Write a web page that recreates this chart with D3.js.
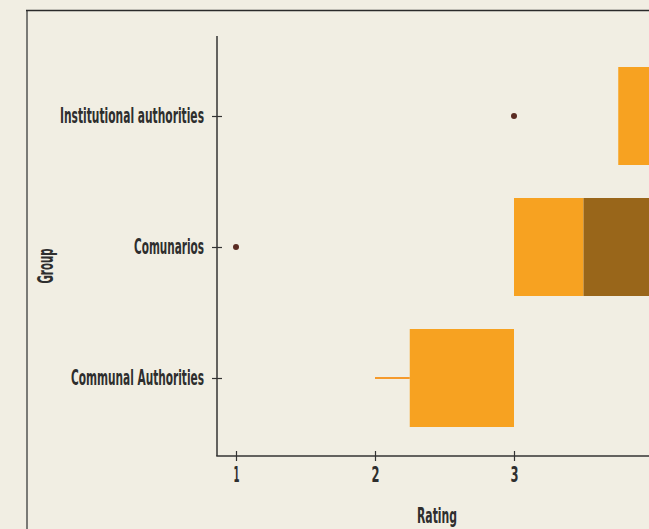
<!DOCTYPE html>
<html>
<head>
<meta charset="utf-8">
<script src="https://cdn.jsdelivr.net/npm/d3@7"></script>
<style>
  html, body { margin: 0; padding: 0; background: #f1eee3; overflow: hidden; }
  svg { display: block; }
  text { font-family: "DejaVu Sans Condensed", "Liberation Sans Narrow", "Liberation Sans", sans-serif; font-weight: bold; fill: #2e2e2e; }
</style>
</head>
<body>
<svg id="chart" width="649" height="529"></svg>
<script>
// Rating distribution per stakeholder group (box plot summary)
const groups = ["Communal Authorities", "Comunarios", "Institutional authorities"];
const whiskerLow = [2, 3, 3.75];
const q1 = [2.25, 3, 3.75];
const median = [3, 3.5, 4];
const q3 = [3, 4, 4.5];
const whiskerHigh = [3, 5, 5];
const outliers = [[], [1], [3]];
const ratingTicks = [1, 2, 3];

const svg = d3.select("#chart");

// outer frame
svg.append("line").attr("x1", 27).attr("y1", 10).attr("x2", 27).attr("y2", 600)
  .attr("stroke", "#7a7a76").attr("stroke-width", 2);
svg.append("line").attr("x1", 26).attr("y1", 10.5).attr("x2", 800).attr("y2", 10.5)
  .attr("stroke", "#2a2a2a").attr("stroke-width", 1.5);

const x = d3.scaleLinear().domain([1, 4]).range([236, 653]);
const y = d3.scalePoint().domain(groups).range([378, 116]);
const boxH = 98;
const axisX = 217, axisY = 456, axisTop = 36;

const plot = svg.append("g");

// whiskers
plot.selectAll("line.whisker").data(groups).join("line")
  .attr("class", "whisker")
  .attr("x1", (g, i) => x(whiskerLow[i]))
  .attr("x2", (g, i) => x(q1[i]))
  .attr("y1", g => y(g)).attr("y2", g => y(g))
  .attr("stroke", "#f59a2c").attr("stroke-width", 2);
plot.selectAll("line.whiskerHi").data(groups).join("line")
  .attr("class", "whiskerHi")
  .attr("x1", (g, i) => x(q3[i]))
  .attr("x2", (g, i) => x(whiskerHigh[i]))
  .attr("y1", g => y(g)).attr("y2", g => y(g))
  .attr("stroke", "#99661a").attr("stroke-width", 2);

// lower half of box (Q1 to median)
plot.selectAll("rect.lower").data(groups).join("rect")
  .attr("class", "lower")
  .attr("x", (g, i) => x(q1[i]))
  .attr("width", (g, i) => x(median[i]) - x(q1[i]))
  .attr("y", g => y(g) - boxH / 2)
  .attr("height", boxH)
  .attr("fill", "#f7a221");

// upper half of box (median to Q3)
plot.selectAll("rect.upper").data(groups).join("rect")
  .attr("class", "upper")
  .attr("x", (g, i) => x(median[i]))
  .attr("width", (g, i) => x(q3[i]) - x(median[i]))
  .attr("y", g => y(g) - boxH / 2)
  .attr("height", boxH)
  .attr("fill", "#99661a");

// outliers
groups.forEach((g, i) => {
  plot.selectAll(null).data(outliers[i]).join("circle")
    .attr("cx", v => x(v)).attr("cy", y(g)).attr("r", 3)
    .attr("fill", "#5a2b22");
});

// axes
const axisColor = "#333";
svg.append("line").attr("x1", axisX).attr("x2", axisX).attr("y1", axisTop).attr("y2", axisY)
  .attr("stroke", axisColor).attr("stroke-width", 1.5);
svg.append("line").attr("x1", axisX - 0.75).attr("x2", 900).attr("y1", axisY).attr("y2", axisY)
  .attr("stroke", axisColor).attr("stroke-width", 1.5);

const xAxis = svg.append("g").attr("transform", `translate(0,${axisY})`)
  .call(d3.axisBottom(x).tickValues(ratingTicks).tickFormat(d3.format("d")).tickSizeOuter(0).tickSizeInner(5));
xAxis.select(".domain").remove();
xAxis.selectAll(".tick line").attr("y1", -5).attr("stroke", axisColor).attr("stroke-width", 1.2);
xAxis.selectAll(".tick text").attr("y", 26).attr("dy", 0)
  .style("font-size", "21px").attr("font-family", null).attr("fill", "#2e2e2e")
  .attr("textLength", d => d === 1 ? 6 : 8).attr("lengthAdjust", "spacingAndGlyphs");

const yAxis = svg.append("g").attr("transform", `translate(${axisX},0)`)
  .call(d3.axisLeft(y).tickSizeOuter(0).tickSizeInner(5));
yAxis.select(".domain").remove();
yAxis.selectAll(".tick line").attr("x1", 5).attr("stroke", axisColor).attr("stroke-width", 1.2);
const labelWidths = { "Communal Authorities": 133, "Comunarios": 70, "Institutional authorities": 144 };
yAxis.selectAll(".tick text")
  .attr("x", -13).attr("dy", "0.3em")
  .style("font-size", "21px").attr("font-family", null).attr("fill", "#2e2e2e")
  .attr("textLength", d => labelWidths[d]).attr("lengthAdjust", "spacingAndGlyphs");

// axis titles
svg.append("text").attr("x", 437).attr("y", 523).attr("text-anchor", "middle")
  .style("font-size", "21px").attr("textLength", 40).attr("lengthAdjust", "spacingAndGlyphs")
  .text("Rating");
svg.append("text").attr("transform", "translate(53,266) rotate(-90)").attr("text-anchor", "middle")
  .style("font-size", "21px").attr("textLength", 35).attr("lengthAdjust", "spacingAndGlyphs")
  .text("Group");
</script>
</body>
</html>
